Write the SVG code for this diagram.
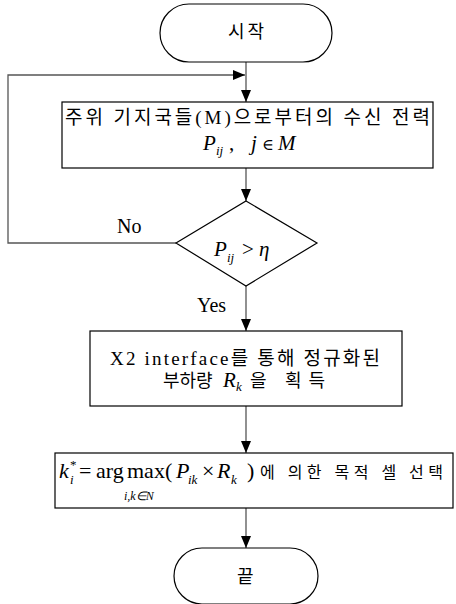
<svg xmlns="http://www.w3.org/2000/svg" width="456" height="604" viewBox="0 0 456 604">
<defs>
<marker id="arr" markerUnits="userSpaceOnUse" markerWidth="12" markerHeight="10" refX="12" refY="5" orient="auto">
<path d="M0,0 L12,5 L0,10 z" fill="#000"/>
</marker>
<style>
.shape{fill:#fff;stroke:#000;stroke-width:1.2}
.conn{fill:none;stroke:#555;stroke-width:1.3}
.kr{font-family:"Liberation Serif","Noto Sans CJK KR",serif;font-size:18px;fill:#000}
.m{font-family:"Liberation Serif",serif;font-size:21px;fill:#000}
.sym{font-family:"DejaVu Serif",serif;font-size:16px;fill:#000}
.i{font-style:italic}
.s{font-size:13px}
.f{font-size:22px}
.lbl{font-size:20px}
</style>
</defs>
<rect width="456" height="604" fill="#fff"/>
<g id="connectors">
<line class="conn" x1="246" y1="62" x2="246" y2="102" marker-end="url(#arr)"/>
<polyline class="conn" points="176,243 8,243 8,75 245,75" marker-end="url(#arr)"/>
<line class="conn" x1="246" y1="168" x2="246" y2="201" marker-end="url(#arr)"/>
<line class="conn" x1="246" y1="286" x2="246" y2="331" marker-end="url(#arr)"/>
<line class="conn" x1="246" y1="406" x2="246" y2="453" marker-end="url(#arr)"/>
<line class="conn" x1="246" y1="508" x2="246" y2="548" marker-end="url(#arr)"/>
<text class="m lbl" x="117" y="233">No</text>
<text class="m lbl" x="197" y="312">Yes</text>
</g>
<g id="start">
<rect class="shape" x="160" y="4" width="172" height="58" rx="29"/>
<text class="kr" x="228" y="38" textLength="36" lengthAdjust="spacing">시작</text>
</g>
<g id="receive">
<rect class="shape" x="62" y="102" width="371" height="66"/>
<text class="kr" x="65" y="124" style="font-size:19px" textLength="365" lengthAdjust="spacing">주위 기지국들(M)으로부터의 수신 전력</text>
<text class="m i" x="203" y="150">P</text>
<text class="m i s" x="216" y="155">ij</text>
<text class="m" x="229" y="150">,</text>
<text class="m i" x="251" y="150">j</text>
<text class="sym" x="262" y="150">∈</text>
<text class="m i" x="278" y="150">M</text>
</g>
<g id="decision">
<polygon class="shape" points="246,201 317,243 246,286 176,243"/>
<text class="m i" x="214" y="256">P</text>
<text class="m i s" x="227" y="262">ij</text>
<text class="m" x="242" y="256">&gt;</text>
<text class="m i" x="259" y="256">η</text>
</g>
<g id="load">
<rect class="shape" x="90" y="331" width="312" height="75"/>
<text class="kr" x="110" y="365" style="font-size:19px" textLength="270" lengthAdjust="spacing">X2 interface를 통해 정규화된</text>
<text class="kr" x="163" y="387">부하량</text>
<text class="m i" x="223" y="387">R</text>
<text class="m i s" x="236" y="391">k</text>
<text class="kr" x="250" y="387" textLength="75" lengthAdjust="spacing">을 획득</text>
</g>
<g id="select">
<rect class="shape" x="55" y="453" width="398" height="55"/>
<text class="m i f" x="59" y="478">k</text>
<text class="m i s" x="70" y="484">i</text>
<text class="m s" x="70" y="469">*</text>
<text class="m f" x="79" y="478">=</text>
<text class="m f" x="96" y="478">arg</text>
<text class="m f" x="127" y="478">max(</text>
<text class="m i f" x="176" y="478">P</text>
<text class="m i s" x="188" y="484">ik</text>
<text class="m f" x="202" y="478">×</text>
<text class="m i f" x="217" y="478">R</text>
<text class="m i s" x="231" y="484">k</text>
<text class="m f" x="247" y="478">)</text>
<text class="m i" x="124" y="500" style="font-size:12px">i,k∈N</text>
<text class="kr" x="260" y="478" style="font-size:16px" textLength="183" lengthAdjust="spacing">에 의한 목적 셀 선택</text>
</g>
<g id="end">
<rect class="shape" x="174" y="548" width="144" height="56" rx="28"/>
<text class="kr" x="237" y="583">끝</text>
</g>
</svg>
